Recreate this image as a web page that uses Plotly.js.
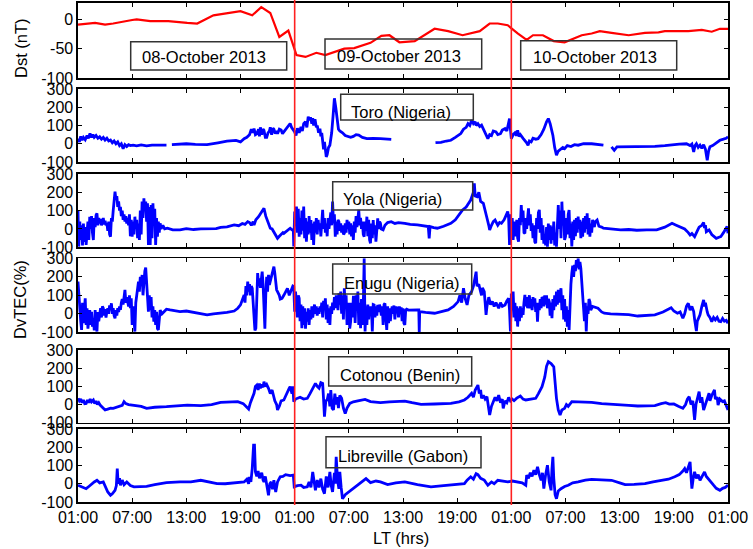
<!DOCTYPE html>
<html><head><meta charset="utf-8">
<script src="https://cdn.plot.ly/plotly-3.0.1.min.js"></script>
<style>html,body{margin:0;padding:0;background:#fff}#chart{width:753px;height:549px}</style>
</head><body><div id="chart"></div>
<script>
// x in hours from 01:00 LT on 08-Oct-2013
const tickHours = [0,6,12,18,24,30,36,42,48,54,60,66,72];
const tickLabels = ["01:00","07:00","13:00","19:00","01:00","07:00","13:00","19:00","01:00","07:00","13:00","19:00","01:00"];
const dayLabels = ["08-October 2013","09-October 2013","10-October 2013"];
const stationNames = ["Toro (Nigeria)","Yola (Nigeria)","Enugu (Nigeria)","Cotonou (Benin)","Libreville (Gabon)"];
const dayBoundaries = [24,48];

// [hour, Dst nT]
const dst = [[0,-9],[1.9,-6],[3,-9],[3.9,-7],[6,-1],[6.5,0],[8,-3],[10,-3],[12.1,-6],[13.2,-7],[15,7],[18,14],[19.3,7],[20.3,21],[21.3,11],[22.3,-30],[23.3,-19],[24.2,-61],[25.2,-64],[26.4,-57],[27.4,-61],[29.5,-50],[30.6,-49],[32.4,-40],[33.6,-28],[34.5,-27],[35.6,-39],[37.3,-37],[39.5,-16],[41,-20],[42.6,-27],[44.5,-20],[45.6,-7],[46.5,-7],[47.6,-10],[48.7,-24],[49.7,-35],[50.4,-27],[51.5,-27],[52.7,-37],[53.9,-39],[55.8,-27],[56.9,-24],[57.8,-20],[59.1,-23],[61,-27],[62.8,-23],[64.3,-22],[65,-20],[67.6,-20],[69.1,-18],[70.2,-21],[71.1,-16],[72,-16]];

// [hour, DvTEC %]
const toro = [[0,28],[0.15,10],[0.3,40],[0.45,20],[0.6,35],[0.8,22],[1,45],[1.15,30],[1.33,56],[1.5,35],[1.65,50],[1.8,35],[2,45],[2.2,30],[2.4,38],[2.6,25],[2.8,35],[3,20],[3.2,30],[3.4,15],[3.6,20],[3.8,5],[4,15],[4.2,0],[4.4,10],[4.6,-10],[4.8,0],[5,-27],[5.2,-5],[5.4,-15],[5.6,-5],[5.8,-10],[6.1,-8],[6.5,-12],[7,-6],[7.6,-12],[8.2,-8],[9,-10],[9.8,-8],[9.9,null],[10.4,-5],[11,-4],[12,0],[13,-3],[14.3,-5],[15.5,5],[16.5,14],[17.5,18],[18,10],[18.4,28],[18.7,35],[19,50],[19.2,80],[19.35,60],[19.5,83],[19.65,50],[19.8,55],[20,80],[20.1,40],[20.2,90],[20.35,50],[20.5,80],[20.6,74],[20.75,35],[20.9,35],[21.05,60],[21.2,70],[21.3,90],[21.45,50],[21.6,85],[21.7,80],[21.85,55],[22,70],[22.1,55],[22.3,80],[22.5,75],[22.65,55],[22.8,65],[23,80],[23.2,90],[23.35,100],[23.5,111],[23.65,90],[23.8,80],[24,65],[24.15,45],[24.3,85],[24.5,60],[24.7,93],[24.85,70],[25,110],[25.2,120],[25.35,90],[25.5,148],[25.6,130],[25.75,145],[25.9,110],[26,140],[26.1,100],[26.25,135],[26.4,90],[26.5,100],[26.65,60],[26.8,83],[26.9,40],[27,60],[27.1,20],[27.2,-30],[27.3,10],[27.4,-54],[27.5,-72],[27.6,-60],[27.75,-20],[27.9,-8],[28.1,60],[28.25,150],[28.4,249],[28.55,200],[28.7,120],[28.85,80],[29,70],[29.3,60],[29.6,45],[29.9,38],[30.2,35],[30.5,40],[30.8,50],[31.1,47],[31.5,35],[32,28],[32.7,30],[33.5,28],[34.1,26],[34.7,24],[34.8,null],[39.6,6],[40.2,8],[40.8,15],[41.3,19],[41.8,35],[42.1,45],[42.4,56],[42.7,80],[43,90],[43.2,110],[43.4,100],[43.6,129],[43.8,110],[44,120],[44.1,100],[44.3,110],[44.5,95],[44.7,102],[44.9,80],[45.1,60],[45.25,40],[45.4,28],[45.6,50],[45.8,45],[46,70],[46.3,65],[46.5,50],[46.8,55],[47,75],[47.3,83],[47.5,70],[47.7,120],[47.8,138],[47.9,80],[48,28],[48.2,50],[48.4,60],[48.55,45],[48.7,74],[48.85,40],[49,50],[49.3,30],[49.5,20],[49.7,5],[49.85,-8],[50,15],[50.2,10],[50.4,30],[50.7,25],[50.96,28],[51.3,50],[51.6,80],[51.9,120],[52.1,138],[52.3,110],[52.5,70],[52.6,47],[52.8,-20],[53,-63],[53.2,-40],[53.5,-30],[53.7,-20],[53.9,-27],[54.2,-10],[54.6,-15],[55,-5],[55.4,-8],[56,0],[56.9,0],[57.5,-3],[58.2,-8],[58.5,null],[59.1,-17],[59.4,-36],[59.7,-17],[60.6,-17],[62,-15],[63.9,-14],[65,-10],[65.8,-5],[66.6,-2],[67.4,0],[67.8,-10],[68,-2],[68.2,-45],[68.35,-10],[68.5,0],[68.7,-20],[68.9,-8],[69.1,-25],[69.3,-5],[69.5,-30],[69.7,-91],[69.85,-40],[70,-17],[70.3,-10],[70.6,0],[70.9,10],[71.1,19],[71.5,25],[71.8,30],[72,38]];

const yola = [[0,104],[0.08,-96],[0.2,40],[0.3,-60],[0.4,20],[0.5,-90],[0.6,30],[0.7,-70],[0.8,10],[0.9,-87],[1,-20],[1.1,40],[1.2,-60],[1.3,67],[1.4,0],[1.5,70],[1.6,-20],[1.7,-60],[1.8,60],[1.9,10],[2,75],[2.1,85],[2.2,20],[2.3,60],[2.4,30],[2.5,55],[2.6,20],[2.7,50],[2.8,60],[2.9,25],[3,45],[3.1,20],[3.2,31],[3.3,-10],[3.4,40],[3.5,-30],[3.6,-42],[3.7,60],[3.8,40],[3.9,100],[4,150],[4.1,204],[4.2,160],[4.3,180],[4.4,120],[4.5,150],[4.6,100],[4.7,120],[4.8,70],[4.9,100],[5,50],[5.1,80],[5.2,40],[5.3,70],[5.4,30],[5.5,60],[5.6,20],[5.7,80],[5.8,-40],[5.9,50],[6,-42],[6.1,40],[6.2,-30],[6.3,67],[6.4,0],[6.5,50],[6.6,-50],[6.7,30],[6.8,-60],[6.9,100],[7,-30],[7.1,150],[7.2,60],[7.3,167],[7.4,100],[7.5,150],[7.6,40],[7.7,140],[7.8,-87],[7.9,120],[8,-87],[8.1,130],[8.2,-50],[8.3,140],[8.4,20],[8.5,110],[8.6,-87],[8.7,60],[8.8,-42],[8.9,40],[9,-20],[9.1,31],[9.2,0],[9.4,20],[9.6,0],[9.9,4],[10.5,-5],[11.3,-5],[12,2],[12.8,-3],[13.6,0],[14.5,3],[15.3,2],[15.8,9],[16.5,12],[17.3,22],[17.8,18],[18.2,30],[18.5,25],[18.8,40],[19,35],[19.2,20],[19.4,40],[19.5,22],[19.7,50],[20,67],[20.3,90],[20.6,113],[20.8,70],[21,40],[21.2,10],[21.3,4],[21.5,0],[21.7,-20],[21.9,-35],[22.1,-51],[22.3,-40],[22.5,-30],[22.7,-20],[22.8,-24],[23,-15],[23.2,-10],[23.4,0],[23.5,4],[23.7,-5],[23.85,-5],[23.9,-96],[24,95],[24.1,20],[24.2,122],[24.3,-20],[24.4,110],[24.5,-42],[24.6,60],[24.7,-30],[24.8,100],[24.9,-10],[25,122],[25.1,-50],[25.2,60],[25.3,-69],[25.4,40],[25.5,-30],[25.6,70],[25.7,-20],[25.8,49],[25.9,-60],[26,30],[26.1,-87],[26.2,40],[26.3,-20],[26.4,60],[26.5,-30],[26.6,50],[26.7,0],[26.8,31],[26.9,-40],[27,80],[27.1,104],[27.2,0],[27.3,60],[27.4,-20],[27.5,30],[27.6,-40],[27.7,60],[27.8,0],[27.9,49],[28,90],[28.1,20],[28.2,149],[28.3,30],[28.4,80],[28.5,-42],[28.6,40],[28.7,-30],[28.8,50],[28.9,40],[29,-10],[29.1,30],[29.2,-20],[29.3,20],[29.4,-30],[29.5,-24],[29.6,30],[29.7,-20],[29.8,50],[29.9,0],[30,40],[30.1,-30],[30.2,31],[30.3,-40],[30.4,20],[30.5,-60],[30.6,40],[30.7,-20],[30.8,70],[30.9,10],[31,80],[31.1,104],[31.2,20],[31.3,60],[31.4,0],[31.5,40],[31.6,-30],[31.7,-42],[31.8,40],[31.9,-10],[32,67],[32.1,-40],[32.2,50],[32.3,-60],[32.4,-78],[32.5,30],[32.6,-50],[32.7,49],[32.8,-30],[32.9,20],[33,-69],[33.1,30],[33.2,58],[33.3,0],[33.4,40],[33.5,31],[33.6,0],[33.8,-5],[34,20],[34.3,35],[34.7,40],[35.1,30],[35.5,35],[36.2,31],[36.8,25],[37.6,22],[38.2,18],[38.8,13],[38.9,-51],[39,13],[39.4,8],[39.8,4],[40.5,15],[41.3,31],[41.8,50],[42.2,75],[42.6,104],[43,120],[43.5,158],[43.8,200],[43.9,249],[44,180],[44.2,176],[44.4,200],[44.6,150],[44.9,140],[45.1,90],[45.3,60],[45.5,20],[45.6,-5],[45.8,20],[46,40],[46.2,49],[46.5,20],[46.7,35],[46.9,31],[47.2,50],[47.4,70],[47.6,95],[47.7,60],[47.8,-87],[47.9,80],[48,-20],[48.1,60],[48.2,-60],[48.3,40],[48.4,13],[48.5,-40],[48.6,50],[48.7,-50],[48.8,-69],[48.9,60],[49,20],[49.1,131],[49.2,40],[49.3,100],[49.4,-20],[49.5,-24],[49.6,60],[49.7,0],[49.8,90],[49.9,113],[50,20],[50.1,80],[50.2,-10],[50.3,31],[50.4,-50],[50.5,20],[50.6,-70],[50.7,-78],[50.8,60],[50.9,0],[51,90],[51.1,104],[51.2,-20],[51.3,60],[51.4,-60],[51.5,20],[51.6,-80],[51.7,-42],[51.8,-90],[51.9,10],[52,-96],[52.1,30],[52.2,-60],[52.3,20],[52.4,-80],[52.5,13],[52.6,-60],[52.7,40],[52.8,-90],[52.9,-20],[53,-96],[53.1,80],[53.2,131],[53.3,0],[53.4,100],[53.5,-50],[53.6,149],[53.7,20],[53.8,100],[53.9,-60],[54,-42],[54.1,60],[54.2,-30],[54.3,80],[54.4,104],[54.5,-50],[54.6,30],[54.7,-96],[54.8,40],[54.9,-60],[55,50],[55.1,-40],[55.2,60],[55.3,-20],[55.4,67],[55.5,0],[55.6,50],[55.7,-50],[55.8,40],[55.9,-42],[56,60],[56.1,-20],[56.2,70],[56.3,0],[56.4,85],[56.5,-30],[56.6,60],[56.7,-42],[56.8,30],[56.9,-20],[57,50],[57.2,10],[57.3,40],[57.5,49],[57.7,15],[58,10],[58.2,4],[59,0],[60.1,-5],[61,-3],[61.9,-7],[63,-5],[64.1,-5],[65,10],[65.5,25],[65.8,31],[66.2,22],[66.7,13],[67.2,0],[67.6,-20],[67.8,-33],[68,-25],[68.3,-42],[68.6,-10],[68.8,10],[69.1,20],[69.3,36],[69.4,5],[69.5,20],[69.6,-15],[69.9,-5],[70.2,-30],[70.5,-45],[70.7,-51],[71,-45],[71.2,-42],[71.5,-20],[71.9,13],[72,-24]];

const enugu = [[0,174],[0.1,80],[0.2,52],[0.3,-40],[0.4,-87],[0.5,60],[0.6,-50],[0.7,40],[0.8,84],[0.9,-60],[1,30],[1.1,-80],[1.2,-42],[1.3,20],[1.4,-60],[1.5,10],[1.6,-70],[1.7,-24],[1.8,-90],[1.9,20],[2,-50],[2.1,-96],[2.2,10],[2.3,-40],[2.4,-6],[2.5,30],[2.6,-20],[2.7,40],[2.8,30],[2.9,-10],[3,25],[3.1,-20],[3.2,12],[3.3,30],[3.4,0],[3.5,45],[3.6,20],[3.7,57],[3.8,0],[3.9,30],[4,-10],[4.1,-24],[4.2,20],[4.3,-10],[4.4,30],[4.5,10],[4.6,40],[4.7,21],[4.8,60],[4.9,80],[5,50],[5.1,100],[5.2,129],[5.3,60],[5.4,90],[5.5,66],[5.6,40],[5.7,100],[5.8,30],[5.9,84],[6,-60],[6.1,40],[6.2,-30],[6.3,-96],[6.4,60],[6.5,100],[6.6,130],[6.7,174],[6.8,120],[6.9,200],[7,150],[7.1,210],[7.2,100],[7.3,180],[7.4,230],[7.5,250],[7.6,150],[7.7,60],[7.8,12],[7.9,100],[8,20],[8.1,90],[8.2,-20],[8.3,40],[8.4,-42],[8.5,20],[8.6,-60],[8.7,10],[8.8,-80],[8.9,-87],[9,-30],[9.1,20],[9.3,0],[9.5,12],[9.8,25],[10.2,21],[10.8,18],[11.3,12],[12,15],[12.8,8],[13.5,2],[14.3,-6],[15,0],[15.8,3],[16.5,8],[17.3,15],[17.7,30],[18,48],[18.2,80],[18.4,102],[18.5,60],[18.6,150],[18.7,100],[18.8,174],[18.9,120],[19,160],[19.1,100],[19.2,150],[19.3,138],[19.4,60],[19.5,-50],[19.6,-90],[19.7,-78],[19.8,100],[19.9,220],[20,150],[20.1,192],[20.2,140],[20.3,200],[20.4,228],[20.5,160],[20.6,-20],[20.7,-80],[20.8,102],[20.9,200],[21,120],[21.1,210],[21.2,156],[21.4,200],[21.5,220],[21.6,240],[21.7,255],[21.8,220],[21.9,150],[22,130],[22.1,120],[22.3,100],[22.4,80],[22.6,84],[22.8,100],[23,120],[23.2,138],[23.4,100],[23.6,130],[23.8,150],[23.9,147],[24,12],[24.1,120],[24.2,60],[24.3,-20],[24.4,100],[24.5,84],[24.6,-40],[24.7,50],[24.8,-78],[24.9,40],[25,-60],[25.1,30],[25.2,-80],[25.3,10],[25.4,-42],[25.5,30],[25.6,-60],[25.7,20],[25.8,-30],[25.9,40],[26,-20],[26.1,30],[26.2,50],[26.3,0],[26.4,40],[26.5,-10],[26.6,30],[26.7,0],[26.8,40],[26.9,12],[27,60],[27.1,-20],[27.2,70],[27.3,20],[27.4,84],[27.5,-30],[27.6,50],[27.7,-50],[27.8,30],[27.9,-60],[28,40],[28.1,0],[28.2,60],[28.3,20],[28.4,90],[28.5,30],[28.6,100],[28.7,84],[28.8,20],[28.9,110],[29,50],[29.1,120],[29.2,0],[29.3,100],[29.4,-30],[29.5,138],[29.6,40],[29.7,100],[29.8,-60],[29.9,-20],[30,60],[30.1,-80],[30.2,-42],[30.3,60],[30.4,-20],[30.5,90],[30.6,90],[30.7,-50],[30.8,100],[30.9,20],[31,120],[31.1,-60],[31.2,60],[31.3,-78],[31.4,80],[31.5,-60],[31.6,40],[31.7,300],[31.75,-96],[31.8,-96],[31.9,40],[32,-60],[32.1,50],[32.2,-30],[32.3,40],[32.4,-6],[32.5,40],[32.6,-96],[32.7,50],[32.8,48],[32.9,-20],[33,40],[33.1,-10],[33.2,48],[33.3,10],[33.4,50],[33.5,30],[33.6,-10],[33.7,40],[33.8,-60],[33.9,50],[34,57],[34.1,-20],[34.2,-87],[34.3,40],[34.4,-50],[34.5,30],[34.6,-40],[34.7,12],[34.8,40],[34.9,0],[35,45],[35.1,-30],[35.2,40],[35.3,10],[35.4,39],[35.5,-20],[35.6,40],[35.7,0],[35.8,35],[35.9,-40],[36,30],[36.1,-50],[36.2,-60],[36.3,20],[36.4,25],[36.6,20],[37,22],[37.6,21],[37.75,21],[37.8,-100],[37.85,12],[38,12],[38.5,8],[39.5,3],[40.2,10],[41,21],[41.6,40],[42.1,66],[42.3,100],[42.5,60],[42.7,138],[42.9,80],[43.1,48],[43.3,100],[43.6,120],[43.8,150],[44,200],[44.1,228],[44.2,150],[44.4,160],[44.5,138],[44.7,100],[44.8,140],[45,120],[45.1,60],[45.2,-6],[45.3,40],[45.5,90],[45.7,50],[45.9,66],[46.1,40],[46.3,60],[46.6,30],[46.8,60],[47,40],[47.3,48],[47.5,70],[47.7,84],[47.8,20],[47.9,-96],[48,110],[48.1,20],[48.2,120],[48.3,-20],[48.4,60],[48.5,-40],[48.6,40],[48.7,-69],[48.8,30],[48.9,-40],[49,40],[49.1,-20],[49.2,30],[49.3,-6],[49.4,60],[49.5,102],[49.6,40],[49.7,90],[49.8,30],[49.9,66],[50,100],[50.1,30],[50.2,80],[50.3,20],[50.4,90],[50.5,40],[50.6,84],[50.7,10],[50.8,60],[50.9,-42],[51,60],[51.1,20],[51.2,80],[51.3,30],[51.4,90],[51.5,84],[51.6,40],[51.7,100],[51.8,50],[51.9,100],[52,30],[52.1,80],[52.2,66],[52.3,-10],[52.4,60],[52.5,-24],[52.6,80],[52.7,20],[52.8,100],[52.9,40],[53,120],[53.1,50],[53.2,130],[53.3,60],[53.4,110],[53.5,138],[53.6,20],[53.7,100],[53.8,-30],[53.9,80],[54,-42],[54.1,40],[54.2,-70],[54.3,20],[54.4,-87],[54.5,60],[54.6,160],[54.7,220],[54.8,260],[54.9,200],[55,264],[55.1,230],[55.2,290],[55.3,250],[55.4,300],[55.5,240],[55.6,280],[55.7,246],[55.8,150],[55.9,60],[56,30],[56.1,-40],[56.2,60],[56.3,-96],[56.4,40],[56.5,0],[56.6,80],[56.7,66],[56.8,20],[57,40],[57.3,35],[57.6,30],[58,10],[58.3,3],[59,0],[60.2,-3],[61,-5],[62,-12],[63,-10],[63.9,-6],[64.8,10],[65.4,25],[65.7,33],[66,15],[66.4,3],[66.7,10],[67,-24],[67.2,0],[67.4,40],[67.6,57],[67.8,20],[68,40],[68.2,12],[68.3,-30],[68.5,-93],[68.6,-40],[68.8,-10],[68.9,-6],[69.1,40],[69.3,75],[69.4,40],[69.5,60],[69.7,10],[69.8,-6],[70,-20],[70.2,-42],[70.4,-20],[70.6,-33],[70.8,-20],[71,-40],[71.2,-42],[71.4,-25],[71.6,-40],[71.8,-35],[72,-51]];

const cotonou = [[0,34],[0.15,20],[0.3,30],[0.45,10],[0.6,25],[0.75,5],[0.9,6],[1.05,25],[1.2,10],[1.35,30],[1.5,15],[1.7,25],[1.85,5],[2,20],[2.15,0],[2.3,10],[2.45,-3],[2.6,-10],[2.8,-20],[3,-30],[3.3,-25],[3.6,-20],[3.9,-21],[4.3,-15],[4.7,-12],[4.9,-5],[5.1,16],[5.3,5],[5.6,0],[6.2,-3],[7,-10],[7.6,-21],[8.5,-15],[9.8,-12],[11,-8],[12.1,-3],[13.6,-6],[14.8,0],[15.8,12],[16.8,15],[17.7,16],[18.3,5],[18.7,-15],[18.9,-25],[19.1,10],[19.3,40],[19.5,62],[19.65,100],[19.8,107],[19.95,80],[20.1,115],[20.2,90],[20.35,110],[20.5,95],[20.6,126],[20.75,100],[20.9,110],[21.1,89],[21.3,60],[21.5,80],[21.65,40],[21.8,20],[22,0],[22.1,-30],[22.3,-10],[22.5,20],[22.8,25],[23,50],[23.2,70],[23.4,90],[23.5,98],[23.7,60],[23.8,100],[23.9,16],[24.1,30],[24.3,34],[24.6,40],[25,30],[25.4,34],[25.7,60],[26,90],[26.3,116],[26.5,100],[26.7,90],[26.9,120],[27.1,116],[27.2,30],[27.3,-67],[27.45,20],[27.6,25],[27.75,60],[27.9,-10],[28,80],[28.15,-20],[28.3,-30],[28.45,60],[28.6,0],[28.7,40],[28.85,-20],[29,50],[29.2,34],[29.4,-20],[29.6,-49],[29.8,-20],[30.1,6],[30.5,15],[31,20],[31.8,28],[32.4,16],[33.5,10],[34.5,15],[35.5,18],[36.2,19],[37,10],[38,1],[39.5,3],[41.3,6],[42.2,15],[42.8,25],[43.2,40],[43.6,62],[43.8,40],[44,80],[44.3,107],[44.45,60],[44.6,80],[44.7,34],[44.9,50],[45.1,30],[45.3,43],[45.45,-20],[45.6,-58],[45.8,-10],[46,16],[46.2,40],[46.4,20],[46.6,52],[46.8,10],[47,30],[47.1,-21],[47.3,20],[47.5,10],[47.7,39],[47.9,20],[48.1,30],[48.3,21],[48.6,35],[49,47],[49.3,30],[49.6,25],[50.1,30],[50.7,34],[51,60],[51.4,98],[51.7,150],[51.9,210],[52.1,236],[52.4,225],[52.7,208],[52.85,120],[53,34],[53.2,-30],[53.4,-58],[53.6,-30],[53.9,-21],[54.1,0],[54.3,-10],[54.7,16],[55.5,15],[56.9,12],[58,5],[59.8,-3],[61,-5],[62,-8],[63,-7],[63.9,-6],[64.6,5],[65.1,10],[65.5,2],[66,3],[66.5,-10],[67,-21],[67.3,0],[67.5,30],[67.7,43],[67.9,0],[68.1,20],[68.3,-85],[68.45,0],[68.6,40],[68.8,71],[68.95,10],[69.1,40],[69.3,-30],[69.5,0],[69.7,40],[69.9,62],[70,20],[70.2,50],[70.5,80],[70.6,30],[70.8,40],[70.9,-3],[71.1,30],[71.4,16],[71.6,20],[71.8,-10],[72,-30]];

const libreville = [[0,-8],[0.3,-15],[0.6,-20],[0.9,-27],[1.2,-15],[1.5,0],[1.8,10],[2.1,19],[2.4,5],[2.8,10],[3.1,-20],[3.3,-45],[3.6,-63],[3.8,-55],[4.1,-36],[4.25,-10],[4.35,83],[4.45,0],[4.6,30],[4.7,-8],[4.9,20],[5.1,-5],[5.4,10],[5.8,-10],[6.2,-17],[7,-15],[7.6,-14],[8.5,-5],[9.8,6],[11.3,10],[12.5,10],[13.6,19],[14.5,8],[15.4,1],[16.3,0],[17.3,4],[18,8],[18.4,10],[18.7,25],[18.9,0],[19,38],[19.15,10],[19.3,83],[19.45,212],[19.55,212],[19.65,65],[19.8,40],[19.95,70],[20.1,30],[20.2,47],[20.35,60],[20.5,20],[20.6,10],[20.75,40],[20.9,-10],[21.1,-63],[21.25,0],[21.4,10],[21.55,-30],[21.7,20],[21.9,-45],[22.1,10],[22.4,38],[22.7,40],[23,50],[23.2,47],[23.5,45],[23.85,47],[23.95,-17],[24.3,-10],[24.7,-8],[25,-20],[25.4,-17],[25.6,10],[25.8,-20],[26,65],[26.15,0],[26.3,-36],[26.5,20],[26.7,-20],[26.9,28],[27.1,-30],[27.3,-54],[27.5,40],[27.7,-20],[27.9,65],[28.05,-10],[28.2,-45],[28.4,60],[28.5,0],[28.6,148],[28.75,20],[28.9,-27],[29,65],[29.15,-20],[29.3,-82],[29.6,-60],[30,-45],[30.4,-25],[30.9,-8],[31.3,5],[31.9,28],[32.4,6],[33,15],[33.5,10],[34.3,-5],[35.2,5],[36.2,10],[37.6,-5],[38.3,-12],[39.1,-17],[40.2,-12],[41.3,-8],[42.1,-5],[42.8,1],[43.1,20],[43.5,38],[43.8,25],[44.1,55],[44.3,50],[44.6,30],[45,20],[45.4,-8],[45.8,10],[46.1,0],[46.5,19],[47,15],[47.6,10],[48.1,15],[48.7,10],[49.2,5],[49.6,-8],[49.7,47],[49.9,30],[50.1,60],[50.3,40],[50.5,74],[50.7,50],[50.9,93],[51.1,50],[51.3,19],[51.45,60],[51.6,-27],[51.8,50],[52,102],[52.2,10],[52.4,-36],[52.5,80],[52.6,148],[52.7,30],[52.85,-60],[53,-82],[53.2,-40],[53.5,-27],[53.9,-15],[54.3,-8],[54.8,5],[55.4,10],[56.2,20],[56.9,24],[58,22],[59.1,19],[60,5],[60.6,-5],[61.6,-3],[62.8,1],[63.7,10],[64.6,19],[65.4,25],[66.1,38],[66.6,50],[67,70],[67.2,83],[67.4,60],[67.6,90],[67.8,120],[67.9,40],[68,-27],[68.15,30],[68.3,65],[68.5,30],[68.7,50],[68.9,19],[69.1,40],[69.4,65],[69.6,40],[69.9,20],[70.2,0],[70.4,-8],[70.7,-25],[71.1,-36],[71.4,-25],[71.7,-20],[72,-8]];

// ---- layout geometry (pixels) ----
const W = 753, H = 549, L = 78, R = 728, T = 3, B = 502;
const px = x => (x - L) / (R - L);
const py = y => (B - y) / (B - T);
const panels = [[3,78],[89,162],[174,247.3],[258.3,332.3],[350,422.7],[429,502]];
const FONT = "Liberation Sans, Arial, sans-serif";

const series = [dst, toro, yola, enugu, cotonou, libreville];
const data = series.map((s, i) => ({
  x: s.map(p => p[0]), y: s.map(p => p[1]),
  xaxis: i === 5 ? 'x' : 'x' + (i + 2), yaxis: i === 0 ? 'y' : 'y' + (i + 1),
  type: 'scatter', mode: 'lines', connectgaps: false,
  line: {color: i === 0 ? '#ff0000' : '#0000ff', width: i === 0 ? 2.2 : 2.8},
  hoverinfo: 'skip', showlegend: false
}));

const axBase = {
  showline: true, linecolor: '#000', linewidth: 1.6, mirror: 'ticks',
  ticks: 'inside', ticklen: 4, tickwidth: 1, tickcolor: '#000',
  showgrid: false, zeroline: false,
  tickfont: {family: FONT, size: 16, color: '#000'}
};
const layout = {
  width: W, height: H, paper_bgcolor: '#fff', plot_bgcolor: '#fff',
  margin: {l: L, r: W - R, t: T, b: H - B, pad: 0},
  font: {family: FONT, size: 16, color: '#000'},
  showlegend: false, annotations: [], shapes: []
};
panels.forEach((p, i) => {
  const yk = i === 0 ? 'yaxis' : 'yaxis' + (i + 1);
  const xk = i === 5 ? 'xaxis' : 'xaxis' + (i + 2);
  const xa = i === 5 ? 'x' : 'x' + (i + 2);
  const ya = i === 0 ? 'y' : 'y' + (i + 1);
  layout[yk] = Object.assign({}, axBase, {
    domain: [py(p[1]), py(p[0])], anchor: xa,
    range: i === 0 ? [-100, 28] : [-100, 300],
    tickvals: i === 0 ? [-100, -50, 0] : [-100, 0, 100, 200, 300],
    ticktext: i === 0 ? ['-100', '-50', '0'] : ['-100', '0', '100', '200', '300']
  });
  layout[xk] = Object.assign({}, axBase, {
    domain: [0, 1], anchor: ya, range: [0, 72],
    tickvals: tickHours, ticktext: tickLabels,
    showticklabels: i === 5
  });
  if (i !== 5) layout[xk].matches = 'x';
});

// red day-boundary lines
dayBoundaries.forEach(h => layout.shapes.push({
  type: 'line', xref: 'x', yref: 'paper', x0: h, x1: h, y0: py(505), y1: py(0),
  line: {color: '#ff2020', width: 1.6}, layer: 'above'
}));

// labelled boxes: [x0,x1,y0,y1,textX,textY,text]
const boxes = [
  [130.7,286.7,41.7,70,204,57, dayLabels[0]],
  [325,481.7,39,69,399,55.5, dayLabels[1]],
  [520.7,676.7,40.7,70,595.3,57, dayLabels[2]],
  [340.7,473.3,94.3,120,401,112, stationNames[0]],
  [332.7,472.7,181.7,210,392.5,199, stationNames[1]],
  [332.7,471.7,264,294,401.7,283, stationNames[2]],
  [328.7,471.7,356.7,386,399.5,375, stationNames[3]],
  [326,481,436.7,467.7,403,455.5, stationNames[4]]
];
boxes.forEach(b => {
  layout.shapes.push({type: 'rect', xref: 'paper', yref: 'paper',
    x0: px(b[0]), x1: px(b[1]), y0: py(b[3]), y1: py(b[2]),
    line: {color: '#333', width: 1.5}, fillcolor: 'rgba(0,0,0,0)', layer: 'above'});
  layout.annotations.push({xref: 'paper', yref: 'paper', x: px(b[4]), y: py(b[5]),
    text: b[6], showarrow: false, xanchor: 'center', yanchor: 'middle',
    font: {family: FONT, size: 16.5, color: '#000'}});
});

// axis titles
layout.annotations.push({xref: 'paper', yref: 'paper', x: px(21), y: py(48), text: 'Dst (nT)',
  textangle: -90, showarrow: false, xanchor: 'center', yanchor: 'middle', font: {family: FONT, size: 16.5}});
layout.annotations.push({xref: 'paper', yref: 'paper', x: px(20), y: py(300), text: 'DvTEC(%)',
  textangle: -90, showarrow: false, xanchor: 'center', yanchor: 'middle', font: {family: FONT, size: 16.5}});
layout.annotations.push({xref: 'paper', yref: 'paper', x: px(401), y: py(538), text: 'LT (hrs)',
  showarrow: false, xanchor: 'center', yanchor: 'middle', font: {family: FONT, size: 16.5}});

Plotly.newPlot('chart', data, layout, {staticPlot: true, displayModeBar: false});
</script></body></html>
